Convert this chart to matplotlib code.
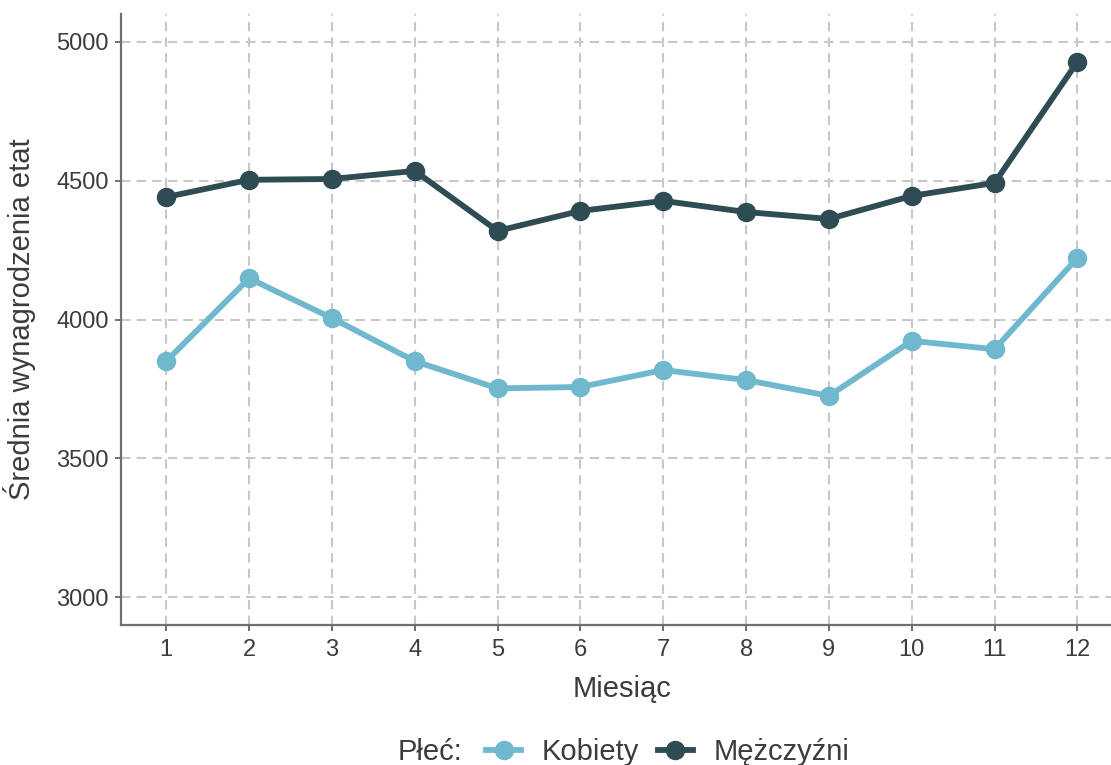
import matplotlib
matplotlib.use("Agg")
import matplotlib.pyplot as plt
from matplotlib.lines import Line2D

plt.rcParams['font.family'] = ['Liberation Sans', 'DejaVu Sans']

months = list(range(1, 13))
kobiety = [3850, 4148, 4005, 3850, 3752, 3757, 3818, 3782, 3725, 3923, 3893, 4222]
mezczyzni = [4441, 4503, 4506, 4535, 4319, 4391, 4427, 4387, 4362, 4445, 4492, 4928]

col_k = "#70B8CE"
col_m = "#2F4B54"
text_col = "#3C3C3C"
spine_col = "#707070"

fig = plt.figure(figsize=(11.11, 7.65), dpi=100)
W, H = 1111, 765
left, right, top, bottom = 120.7, 1123, 14, 625
ax = fig.add_axes([left / W, 1 - bottom / H, (right - left) / W, (bottom - top) / H])

ax.plot(months, kobiety, color=col_k, lw=4.2, marker="o", ms=13, zorder=3, clip_on=False)
ax.plot(months, mezczyzni, color=col_m, lw=4.2, marker="o", ms=13, zorder=3, clip_on=False)

ax.set_xlim(0.45, 12.55)
ax.set_ylim(2900, 5100)
ax.set_xticks(months)
ax.set_yticks([3000, 3500, 4000, 4500, 5000])
ax.grid(True, color="#C8C8C8", ls=(0, (4.5, 3)), lw=1.5)
ax.set_axisbelow(True)

for s in ["top", "right"]:
    ax.spines[s].set_visible(False)
for s in ["left", "bottom"]:
    ax.spines[s].set_color(spine_col)
    ax.spines[s].set_linewidth(1.6)
ax.tick_params(colors=spine_col, width=1.4, length=4.5, labelsize=17, labelcolor=text_col)
ax.tick_params(axis="x", pad=5.5)
ax.tick_params(axis="y", pad=4)

ax.set_xlabel("Miesiąc", fontsize=21, color=text_col, labelpad=10)
ax.set_ylabel("Średnia wynagrodzenia etat", fontsize=21, color=text_col, labelpad=15)

handles = [Line2D([], [], color=col_k, lw=4.2, marker="o", ms=13),
           Line2D([], [], color=col_m, lw=4.2, marker="o", ms=13)]
fig.text(398 / W, 1 - 752 / H, "Płeć:", fontsize=21, color=text_col, va="center", ha="left")
fig.legend(handles, ["Kobiety", "Mężczyźni"], loc="center left",
           bbox_to_anchor=(486 / W, 1 - 752 / H), ncol=2, frameon=False,
           fontsize=21, handlelength=1.2, handletextpad=0.7, columnspacing=0.65,
           borderpad=0, borderaxespad=0, labelcolor=text_col)

fig.savefig("out.png", dpi=100)
